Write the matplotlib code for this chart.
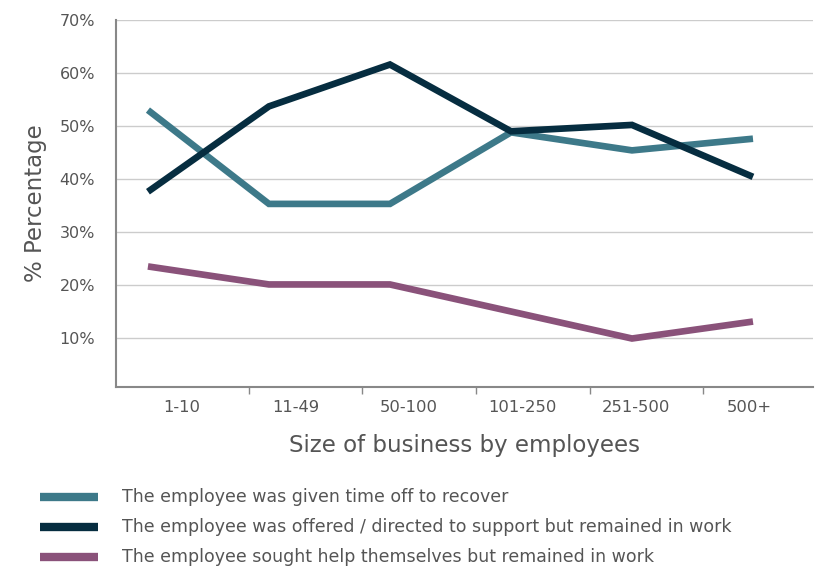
import numpy as np
import matplotlib
matplotlib.use("Agg")
import matplotlib.pyplot as plt
from matplotlib.lines import Line2D

plt.rcParams['font.family'] = ['DejaVu Sans']

# data
categories = ['1-10', '11-49', '50-100', '101-250', '251-500', '500+']
time_off = [53, 35.3, 35.3, 48.8, 45.4, 47.6]
offered_support = [37.6, 53.7, 61.6, 49, 50.2, 40.4]
sought_help = [23.5, 20.1, 20.1, 15, 9.9, 13.1]
series_labels = ['The employee was given time off to recover',
                 'The employee was offered / directed to support but remained in work',
                 'The employee sought help themselves but remained in work']
colors = ['#3d7989', '#062d40', '#8a527a']
yticks = [10, 20, 30, 40, 50, 60, 70]

fig = plt.figure(figsize=(8.25, 5.66), dpi=100)
ax = fig.add_axes([116/825, 1-387/566, (813-116)/825, (387-20)/566])

x = np.arange(len(categories))
for vals, c in zip([time_off, offered_support, sought_help], colors):
    ax.plot(x, vals, color=c, lw=4.8, solid_joinstyle='miter', solid_capstyle='butt', zorder=3)

ax.set_xlim(-0.264, 5.496)
ax.set_ylim(0.75, 70)
ax.set_yticks(yticks)
ax.set_yticklabels([f'{v}%' for v in yticks])
ax.yaxis.grid(True, color='#cccccc', lw=1)
ax.set_axisbelow(True)

# category labels and separator ticks
step = 0.938
ax.set_xticks([0.281 + step*i for i in range(len(categories))])
ax.set_xticklabels(categories)
ax.set_xticks([0.835 + step*k for k in range(5)], minor=True)
ax.tick_params(axis='x', which='major', length=0, pad=9, labelsize=11.8, colors='#555555')
ax.tick_params(axis='x', which='minor', length=5, width=1, color='#888888', direction='out')
ax.tick_params(axis='y', length=0, pad=15, labelsize=11.5, colors='#555555')

for s in ['top', 'right']:
    ax.spines[s].set_visible(False)
for s in ['left', 'bottom']:
    ax.spines[s].set_color('#888888')
    ax.spines[s].set_linewidth(1.5)

ax.set_xlabel('Size of business by employees', fontsize=16.5, color='#555555', labelpad=14)
ax.set_ylabel('% Percentage', fontsize=16.5, color='#555555', labelpad=9)

# legend
for i, (lab, c) in enumerate(zip(series_labels, colors)):
    yy = 1 - (497 + 30*i)/566
    fig.add_artist(Line2D([40/825, 98/825], [yy, yy], color=c, lw=6, solid_capstyle='butt'))
    fig.text(122/825, yy, lab, fontsize=12.5, color='#555555', va='center', ha='left')

fig.savefig('out.png', dpi=100)
